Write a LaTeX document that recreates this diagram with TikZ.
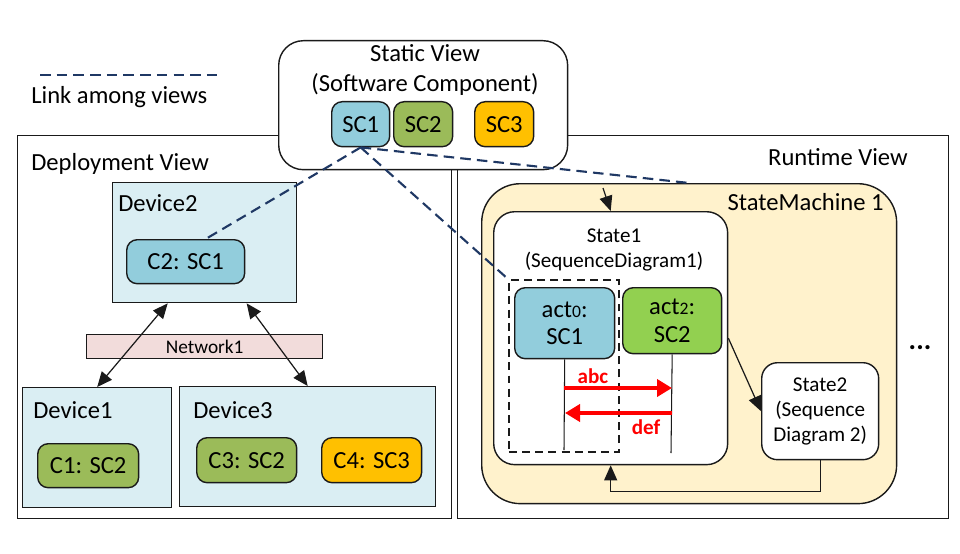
\documentclass[tikz,border=0pt]{standalone}
\usepackage{fontspec}
\setmainfont{Carlito}
\usetikzlibrary{arrows.meta,positioning,calc}
\definecolor{Navy}{HTML}{1F3864}
\definecolor{Edge}{HTML}{1A1A1A}
\definecolor{Aqua}{HTML}{92CDDC}
\definecolor{Olive}{HTML}{9BBB59}
\definecolor{Amber}{HTML}{FFC000}
\definecolor{Lime}{HTML}{92D050}
\definecolor{SoftAqua}{HTML}{DAEEF3}
\definecolor{SoftRose}{HTML}{F2DCDB}
\definecolor{SoftPeach}{HTML}{FFF2CC}
\newcommand{\fsbig}{\fontsize{14}{17}\selectfont}
\newcommand{\fsmid}{\fontsize{12}{14.2}\selectfont}
\tikzset{
 frame/.style={draw=Edge, line width=0.8pt, fill=white, anchor=north west, inner sep=0pt},
 device/.style={frame, fill=SoftAqua},
 comp/.style={frame, rounded corners=6pt, font=\fsbig, anchor=north west},
 statebox/.style={frame, rounded corners=12pt, align=center},
 title/.style={font=\fsbig, inner sep=0pt},
 link/.style={draw=Navy, line width=1.2pt, dash pattern=on 6pt off 3.5pt},
 arrow/.style={-{Triangle[length=3mm,width=2.6mm]}, draw=Edge, line width=0.7pt},
 dblarrow/.style={{Triangle[length=3mm,width=2.6mm]}-{Triangle[length=3mm,width=2.6mm]}, draw=Edge, line width=0.7pt},
 msg/.style={-{Triangle[length=3mm,width=3.4mm]}, draw=red, line width=2.2pt},
 msglabel/.style={text=red, font=\fsmid\bfseries, inner sep=0pt},
 life/.style={draw=Edge, line width=0.6pt}
}

\begin{document}
\begin{tikzpicture}[x=0.02cm,y=-0.02cm]
\useasboundingbox (0,0) rectangle (960,554);
% legend
\coordinate (lgA) at (40,75);
\coordinate (lgB) at (222,75);
\draw[link] (lgA) -- (lgB);
\node[title, anchor=west] (lgtext) at (31,97) {Link among views};

% deployment view
\node[frame, minimum width=8.68cm, minimum height=7.66cm] (deploy) at (17,135) {};
\node[title, anchor=west] (deploytitle) at (31,164) {Deployment View};
\node[device, minimum width=3.68cm, minimum height=2.4cm] (dev2) at (112,182) {};
\node[title, anchor=west] (dev2title) at (118,203) {Device2};
\node[comp, fill=Aqua, minimum width=2.36cm, minimum height=0.88cm] (c2) at (126,239) {C2: SC1};
\node[frame, fill=SoftRose, minimum width=4.72cm, minimum height=0.48cm, font=\fontsize{11}{13}\selectfont] (net1) at (86,334) {Network1};
\node[device, minimum width=2.98cm, minimum height=2.4cm] (dev1) at (22,387) {};
\node[title, anchor=west] (dev1title) at (33,410) {Device1};
\node[comp, fill=Olive, minimum width=2.02cm, minimum height=0.88cm] (c1) at (37,443) {C1: SC2};
\node[device, minimum width=5.12cm, minimum height=2.4cm] (dev3) at (179,386) {};
\node[title, anchor=west] (dev3title) at (193,410) {Device3};
\node[comp, fill=Olive, minimum width=2cm, minimum height=0.9cm] (c3) at (196,437) {C3: SC2};
\node[comp, fill=Amber, minimum width=2cm, minimum height=0.9cm] (c4) at (321,437) {C4: SC3};
\draw[dblarrow] ([xshift=-0.74cm]dev2.south) -- (dev1.north);
\draw[dblarrow] ([xshift=0.84cm]dev2.south) -- (dev3.north);

% runtime view
\node[frame, minimum width=9.82cm, minimum height=7.66cm] (runtime) at (457,135) {};
\node[title, anchor=east] (runtitle) at (908,157) {Runtime View};
\node[frame, fill=SoftPeach, rounded corners=22pt, minimum width=8.3cm, minimum height=6.4cm] (sm) at (481,183) {};
\node[title, anchor=east] (smtitle) at (884,202) {StateMachine 1};
\node[statebox, minimum width=4.68cm, minimum height=5.06cm] (state1) at (493,211) {};
\node[font=\fsmid, align=center, inner sep=0pt] (state1title) at (614,250) {State1\\(SequenceDiagram1)};
\node[frame, fill=none, line width=1pt, dash pattern=on 4.5pt off 3pt, minimum width=2.2cm, minimum height=3.44cm] (sd1) at (508,279) {};
\node[comp, fill=Aqua, align=center, minimum width=2cm, minimum height=1.42cm, font=\fontsize{14}{15.5}\selectfont] (act0) at (514,287) {act{\fontsize{10}{12}\selectfont 0}:\\SC1};
\node[comp, fill=Lime, align=center, minimum width=1.98cm, minimum height=1.32cm, font=\fontsize{14}{15.5}\selectfont] (act2) at (622,287) {act{\fontsize{10}{12}\selectfont 2}:\\SC2};
\coordinate (end0) at (564,450);
\coordinate (end2) at (671,453);
\draw[life] (act0.south) -- (end0);
\draw[life] (act2.south) -- (end2);
\coordinate (abcS) at (564,388);
\coordinate (abcE) at (672,388);
\coordinate (defS) at (672,413);
\coordinate (defE) at (565,413);
\draw[msg] (abcS) -- (abcE);
\draw[msg] (defS) -- (defE);
\node[msglabel] (abc) at (593,376) {abc};
\node[msglabel] (def) at (646,427) {def};
\node[statebox, rounded corners=9pt, minimum width=2.34cm, minimum height=1.94cm, font=\fsmid] (state2) at (761,362) {State2\\(Sequence\\Diagram 2)};
\coordinate (init) at (603,188);
\draw[arrow] (init) -- (state1.north);
\draw[arrow] (state1.east) -- (state2.west);
\draw[arrow] (state2.south) -- ++(0,31) -| (state1.south);
\node[font=\fontsize{16}{18}\selectfont\bfseries, inner sep=0pt] (more) at (920,348) {...};

% static view
\node[frame, rounded corners=14pt, minimum width=5.78cm, minimum height=2.58cm] (static) at (278,40) {};
\node[title, align=center] (stitle) at (425,70) {Static View\\(Software Component)};
\node[comp, fill=Aqua, minimum width=1.16cm, minimum height=0.9cm] (sc1) at (331,101) {SC1};
\node[comp, fill=Olive, minimum width=1.18cm, minimum height=0.9cm] (sc2) at (393,101) {SC2};
\node[comp, fill=Amber, minimum width=1.18cm, minimum height=0.9cm] (sc3) at (474,101) {SC3};

% links among views
\draw[link] (sc1.south) -- ([xshift=0.4cm]c2.north);
\draw[link] (sc1.south) -- (sd1.north west);
\draw[link] (sc1.south) -- (sm.north);
\end{tikzpicture}
\end{document}
